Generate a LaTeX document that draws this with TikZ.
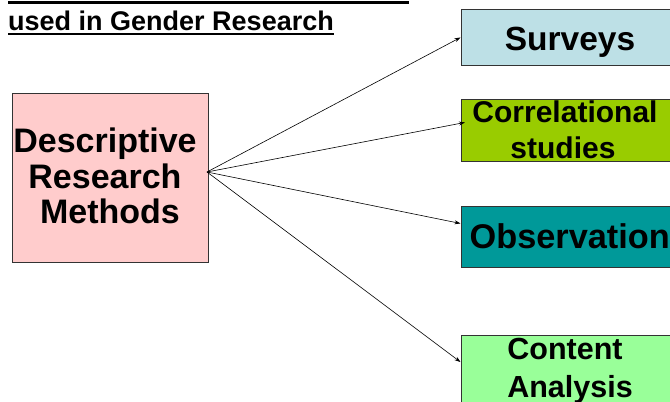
\documentclass[tikz,border=0pt]{standalone}
\usepackage{fontspec}
\setmainfont{Liberation Sans}
\usetikzlibrary{arrows.meta}
\definecolor{pinkfill}{HTML}{FFCCCC}
\definecolor{bluefill}{HTML}{BDE0E6}
\definecolor{limefill}{HTML}{99CC00}
\definecolor{tealfill}{HTML}{009999}
\definecolor{greenfill}{HTML}{99FF99}
\definecolor{edgegray}{HTML}{333333}
\tikzset{
  boxstyle/.style={draw=edgegray, line width=0.9pt, rectangle, inner sep=0pt, anchor=north west},
  txt/.style={inner sep=0pt, anchor=base, font=\bfseries},
  link/.style={draw=black, line width=0.6pt, -{Stealth[length=6pt,width=4pt]}}
}
\begin{document}
\begin{tikzpicture}[x=1pt,y=-1pt]
\useasboundingbox (0,0) rectangle (670,402);
\clip (0,0) rectangle (670,402);
\fill[white] (0,0) rectangle (670,402);
% cut-off title underline
\coordinate (ul1) at (8,2.5);
\coordinate (ul2) at (409,2.5);
\draw[line width=2.6pt] (ul1) -- (ul2);
% subtitle
\node[inner sep=0pt, anchor=base west, font=\bfseries\fontsize{27}{30}\selectfont] (sub) at (8,30.5) {used in Gender Research};
\draw[line width=2pt] ([yshift=-3.5pt]sub.base west) -- ([yshift=-3.5pt]sub.base east);
% boxes
\node[boxstyle, fill=pinkfill, minimum width=196pt, minimum height=169pt] (desc) at (12,93) {};
\node[boxstyle, fill=bluefill, minimum width=209pt, minimum height=56pt] (surv) at (460.5,9) {};
\node[boxstyle, fill=limefill, minimum width=209pt, minimum height=62pt] (corr) at (460.5,99) {};
\node[boxstyle, fill=tealfill, minimum width=209pt, minimum height=61pt] (obs) at (460.5,206) {};
\node[boxstyle, fill=greenfill, minimum width=209pt, minimum height=80pt] (cont) at (460.5,335) {};
% texts
\node[txt, font=\bfseries\fontsize{34}{36}\selectfont] (d1) at (105,152) {Descriptive};
\node[txt, font=\bfseries\fontsize{34}{36}\selectfont] (d2) at (105,188) {Research};
\node[txt, font=\bfseries\fontsize{34}{36}\selectfont] (d3) at (110,223.5) {Methods};
\node[txt, font=\bfseries\fontsize{33.5}{36}\selectfont] (s1) at (570,50) {Surveys};
\node[txt, font=\bfseries\fontsize{30}{32}\selectfont] (c1) at (565,122) {Correlational};
\node[txt, font=\bfseries\fontsize{30}{32}\selectfont] (c2) at (563,158) {studies};
\node[inner sep=0pt, anchor=base west, font=\bfseries\fontsize{34.3}{36}\selectfont] (o1) at (469.5,248) {Observation};
\node[txt, font=\bfseries\fontsize{30.5}{32}\selectfont] (t1) at (565,359) {Content};
\node[txt, font=\bfseries\fontsize{30.5}{32}\selectfont] (t2) at (570,397) {Analysis};
% connectors
\coordinate (src) at (207,172);
\draw[link] (src) -- (surv.west);
\draw[link] (src) -- ([xshift=4.5pt,yshift=8pt]corr.west);
\draw[link] (src) -- ([yshift=13.5pt]obs.west);
\draw[link] (src) -- ([yshift=-27pt]cont.north west);
\end{tikzpicture}
\end{document}
